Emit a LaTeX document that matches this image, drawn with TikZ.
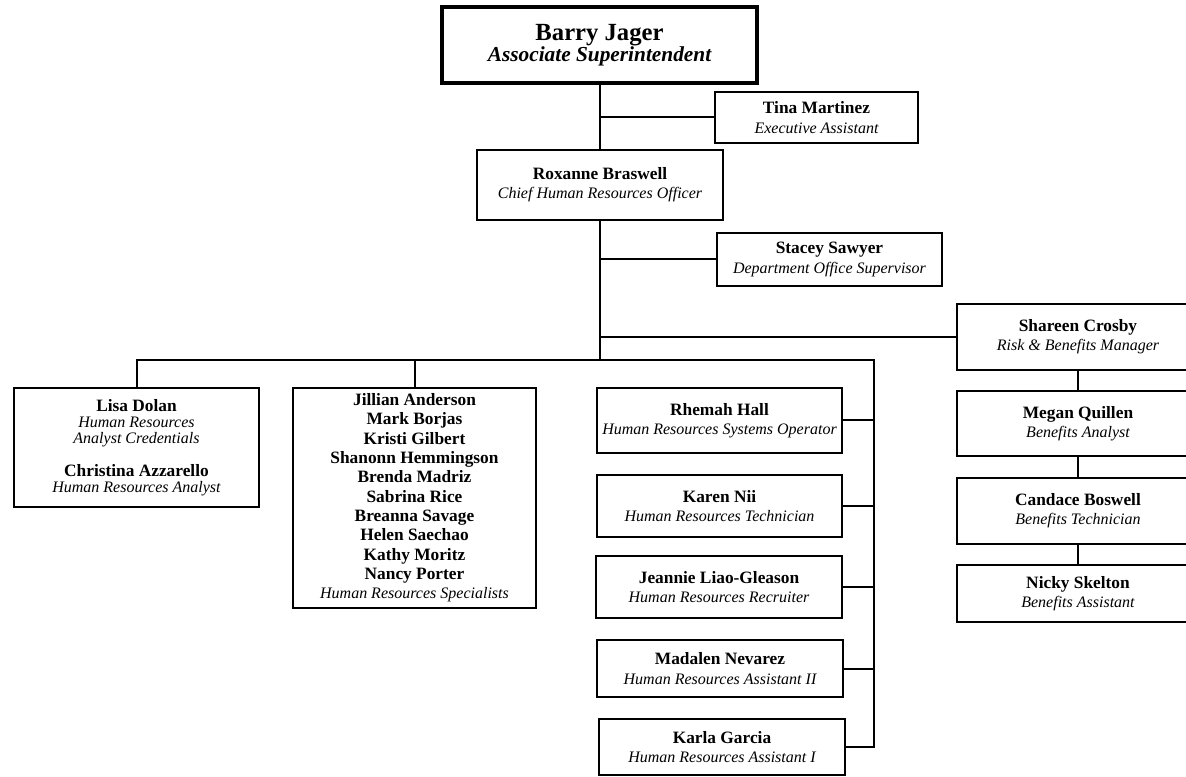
\documentclass[tikz,border=0pt]{standalone}
\usepackage{fontspec}
\setmainfont{Liberation Serif}
\usepackage{tikz}
\usetikzlibrary{positioning, calc}
\newcommand{\pname}[1]{{\fontsize{13}{14.5}\selectfont\bfseries #1}}
\newcommand{\ptitle}[1]{{\fontsize{12}{14.5}\selectfont\itshape #1}}

\begin{document}
\begin{tikzpicture}[
            x=0.75pt, y=-0.75pt,
            font=\fontsize{12}{14.5}\selectfont,
            box/.style={
                rectangle, draw=black, line width=1.5pt, fill=white,
                align=center, inner sep=2pt
            },
            topbox/.style={box, line width=3pt, font=\fontsize{18.5}{15}\selectfont},
            tightbox/.style={box, font=\fontsize{12}{12}\selectfont},
            size/.style n args={2}{minimum width=#1*0.75pt, minimum height=#2*0.75pt},
            link/.style={draw, line width=1.5pt}
        ]
        \useasboundingbox (0,0) rectangle (1186,777);
        \clip (0,0) rectangle (1186,777);

        % --- Top: superintendent, assistant, chief officer ---
        \node[topbox, size={315}{76}] (barry) at (599.5,45)
            {{\bfseries Barry Jager}\\{\fontsize{16}{15}\selectfont\bfseries\itshape Associate Superintendent}};
        \node[box, size={203}{51}] (tina) at (816.5,117.5)
            {\pname{Tina Martinez}\\\ptitle{Executive Assistant}};
        \node[box, size={246}{70}] (roxanne) at (600,185)
            {\pname{Roxanne Braswell}\\\ptitle{Chief Human Resources Officer}};
        \node[box, size={225}{53}] (stacey) at (829.5,259.5)
            {\pname{Stacey Sawyer}\\\ptitle{Department Office Supervisor}};

        % --- Benefits column ---
        \node[box, size={242}{66}] (shareen) at (1078,337)
            {\pname{Shareen Crosby}\\\ptitle{Risk \& Benefits Manager}};
        \node[box, size={242}{65}] (megan) at (1078,423.5)
            {\pname{Megan Quillen}\\\ptitle{Benefits Analyst}};
        \node[box, size={242}{66}] (candace) at (1078,511)
            {\pname{Candace Boswell}\\\ptitle{Benefits Technician}};
        \node[box, size={242}{57}] (nicky) at (1078,593.5)
            {\pname{Nicky Skelton}\\\ptitle{Benefits Assistant}};

        % --- Bottom row: analysts and specialists ---
        \node[tightbox, size={245}{119}] (lisa) at (136.5,447.5)
            {\pname{Lisa Dolan}\\\ptitle{Human Resources}\\\ptitle{Analyst Credentials}\\[12.75pt]
             \pname{Christina Azzarello}\\\ptitle{Human Resources Analyst}};
        \node[box, size={243}{220}] (jillian) at (414.5,498)
            {\pname{Jillian Anderson}\\\pname{Mark Borjas}\\\pname{Kristi Gilbert}\\
             \pname{Shanonn Hemmingson}\\\pname{Brenda Madriz}\\\pname{Sabrina Rice}\\
             \pname{Breanna Savage}\\\pname{Helen Saechao}\\\pname{Kathy Moritz}\\
             \pname{Nancy Porter}\\\ptitle{Human Resources Specialists}};

        % --- Right column: systems, recruiting, assistants ---
        \node[box, size={245}{65}] (rhemah) at (719.5,420.5)
            {\pname{Rhemah Hall}\\\ptitle{Human Resources Systems Operator}};
        \node[box, size={245}{62}] (karen) at (719.5,506)
            {\pname{Karen Nii}\\\ptitle{Human Resources Technician}};
        \node[box, size={246}{62}] (jeannie) at (719,587)
            {\pname{Jeannie Liao-Gleason}\\\ptitle{Human Resources Recruiter}};
        \node[box, size={246}{57}] (madalen) at (720,668.5)
            {\pname{Madalen Nevarez}\\\ptitle{Human Resources Assistant II}};
        \node[box, size={246}{56}] (karla) at (722,747)
            {\pname{Karla Garcia}\\\ptitle{Human Resources Assistant I}};

        % --- Reporting lines ---
        \coordinate (rail) at (874,360);
        \draw[link] (barry.south) -- (barry.south |- roxanne.north);
        \draw[link] (tina.west) -- (barry.south |- tina.west);
        \draw[link] (roxanne.south) -- (roxanne.south |- rail);
        \draw[link] (stacey.west) -- (roxanne.south |- stacey.west);
        \draw[link] (shareen.west) -- (roxanne.south |- shareen.west);
        \draw[link] (lisa.north) |- (rail) -- (rail |- karla.east) -- (karla.east);
        \draw[link] (jillian.north) -- (jillian.north |- rail);
        \foreach \who in {rhemah, karen, jeannie, madalen}
            \draw[link] (\who.east) -- (\who.east -| rail);
        \draw[link] (shareen.south) -- (megan.north);
        \draw[link] (megan.south) -- (candace.north);
        \draw[link] (candace.south) -- (nicky.north);

    \end{tikzpicture}
\end{document}
